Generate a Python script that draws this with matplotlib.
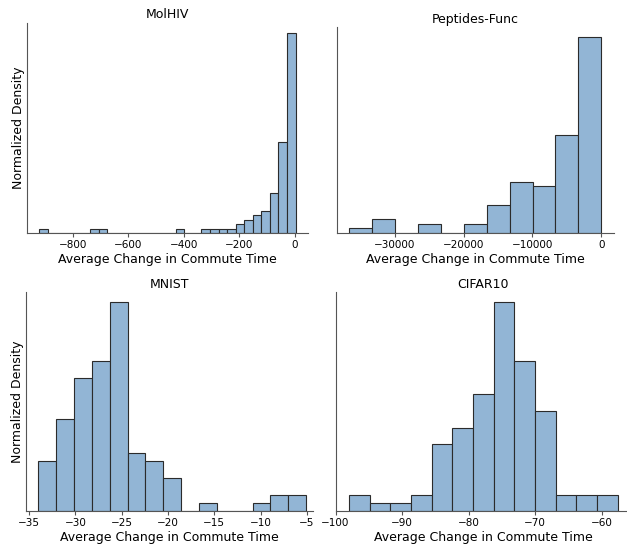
import numpy as np
import matplotlib.pyplot as plt

# bin edges (min, max, number of bins) and per-bin counts for each dataset
molhiv_range = (-921, 3, 30)
molhiv_counts = [1, 0, 0, 0, 0, 0, 1, 1, 0, 0, 0, 0, 0, 0, 0, 0,
                 1, 0, 0, 1, 1, 1, 1, 2, 3, 4, 5, 9, 20.5, 45]

peptides_range = (-36620, 0, 11)
peptides_counts = [1, 3, 0, 2, 0, 2, 6, 11, 10, 21, 42]

mnist_range = (-34.0, -5.1, 15)
mnist_counts = [6, 11, 16, 18, 25, 7, 6, 4, 0, 1, 0, 0, 1, 2, 2]

cifar_range = (-98.0, -57.6, 13)
cifar_counts = [2, 1, 1, 2, 8, 10, 14, 25, 18, 12, 2, 2, 2]

titles = ["MolHIV", "Peptides-Func", "MNIST", "CIFAR10"]
ranges = [molhiv_range, peptides_range, mnist_range, cifar_range]
counts = [molhiv_counts, peptides_counts, mnist_counts, cifar_counts]
xlims = [(-966, 48), (-38450, 1770), (-35.38, -4.35), (-100, -55.6)]
xticks = [[-800, -600, -400, -200, 0],
          [-30000, -20000, -10000, 0],
          [-35, -30, -25, -20, -15, -10, -5],
          [-100, -90, -80, -70, -60]]

# axes boxes [left, bottom, width, height] in figure fractions
boxes = [[0.0423, 0.5733, 0.449, 0.3852],
         [0.5367, 0.5733, 0.4418, 0.3778],
         [0.0407, 0.0636, 0.4585, 0.4016],
         [0.5351, 0.0636, 0.4713, 0.4016]]

fig = plt.figure(figsize=(6.27, 5.46), dpi=100)

for i in range(4):
    ax = fig.add_axes(boxes[i])
    lo, hi, nb = ranges[i]
    edges = np.linspace(lo, hi, nb + 1)
    ax.bar(edges[:-1], counts[i], width=np.diff(edges), align='edge',
           color='#92b5d5', edgecolor='#2b2b2b', linewidth=0.8)
    ax.set_xlim(*xlims[i])
    ax.set_ylim(0, max(counts[i]) * 1.05)
    ax.set_xticks(xticks[i])
    ax.set_yticks([])
    ax.set_title(titles[i], fontsize=9, pad=3)
    ax.set_xlabel("Average Change in Commute Time", fontsize=9, labelpad=2)
    if i % 2 == 0:
        ax.set_ylabel("Normalized Density", fontsize=9, labelpad=1)
    for s in ['top', 'right']:
        ax.spines[s].set_visible(False)
    for s in ['left', 'bottom']:
        ax.spines[s].set_color('#555555')
        ax.spines[s].set_linewidth(0.8)
    ax.tick_params(axis='x', labelsize=7.5, length=3, width=0.8,
                   color='#555555', pad=2)

fig.savefig("out.png", dpi=100)
